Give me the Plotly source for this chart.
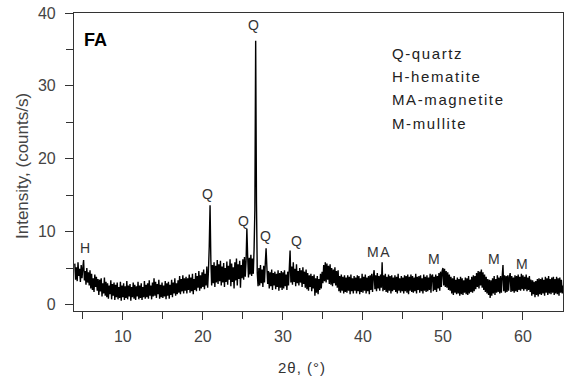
import plotly.graph_objects as go

# Scan: start angle and step (degrees 2-theta)
scan_start = 4.0
scan_step = 0.1

# Intensity (counts/s), one list per 10-degree block
y_04_10 = [5.6, 3.4, 5.1, 3.2, 5.8, 3.9, 4.9, 3.1, 5.4, 3.6,
           5.0, 6.1, 3.3, 4.6, 2.7, 5.0, 3.0, 4.4, 2.6, 4.7,
           2.2, 4.2, 2.0, 3.6, 1.7, 4.1, 2.4, 3.8, 1.9, 3.5,
           1.3, 3.4, 1.8, 3.6, 1.1, 2.9, 1.5, 3.7, 1.2, 3.1,
           1.0, 2.9, 0.8, 2.6, 1.4, 3.3, 0.7, 2.8, 1.2, 3.0,
           0.6, 2.7, 1.0, 3.0, 0.7, 2.4, 0.9, 3.1, 0.5, 2.6]
y_10_20 = [1.0, 2.9, 0.6, 2.5, 0.9, 3.2, 0.7, 2.6, 1.1, 2.8,
           0.5, 2.4, 1.0, 3.0, 0.8, 2.7, 0.6, 2.5, 1.1, 3.1,
           0.7, 2.6, 0.9, 2.9, 0.6, 2.4, 1.0, 3.2, 0.8, 2.7,
           1.0, 2.9, 0.8, 3.3, 1.2, 2.6, 0.7, 3.0, 1.1, 3.6,
           1.2, 3.1, 0.9, 2.8, 1.4, 3.4, 0.8, 2.7, 1.0, 3.0,
           0.9, 2.6, 1.1, 3.2, 0.7, 2.9, 1.2, 3.1, 0.8, 2.7,
           1.3, 3.4, 1.0, 3.0, 1.5, 3.6, 1.2, 2.9, 1.4, 3.3,
           1.6, 3.9, 1.4, 3.5, 1.8, 4.0, 1.5, 3.6, 1.9, 3.8,
           1.5, 3.6, 2.0, 4.1, 1.6, 3.7, 1.8, 4.2, 1.4, 3.5,
           2.0, 4.3, 1.8, 3.9, 2.3, 4.6, 1.9, 4.0, 2.2, 4.4]
y_20_30 = [2.4, 4.8, 2.1, 4.2, 2.6, 5.2, 2.3, 4.6, 8.0, 13.6,
           6.0, 2.6, 5.4, 2.9, 5.8, 2.4, 5.3, 3.0, 6.1, 2.8,
           5.5, 3.2, 6.0, 2.6, 5.2, 3.0, 5.7, 2.4, 5.0, 3.1,
           5.9, 2.7, 5.3, 3.4, 6.2, 2.5, 5.6, 3.1, 5.1, 2.2,
           5.8, 3.3, 6.3, 2.6, 5.5, 3.5, 6.0, 2.3, 5.4, 3.6,
           6.2, 3.4, 6.5, 3.8, 5.9, 10.4, 6.6, 3.7, 6.4, 4.1,
           6.8, 3.9, 6.3, 4.2, 7.5, 13.0, 36.2, 14.0, 4.3, 2.5,
           5.0, 2.6, 5.4, 2.9, 4.8, 2.4, 5.3, 3.0, 5.6, 7.7,
           5.1, 2.8, 4.6, 2.2, 4.4, 2.5, 4.8, 2.0, 4.3, 2.6,
           4.5, 2.1, 4.2, 2.4, 4.7, 1.9, 4.3, 2.3, 4.6, 2.0]
y_30_40 = [4.4, 2.2, 4.7, 2.5, 4.1, 2.0, 4.5, 2.6, 4.9, 7.4,
           3.0, 5.2, 2.7, 5.8, 3.1, 4.9, 2.5, 5.5, 2.9, 4.6,
           2.6, 5.0, 3.0, 4.7, 2.4, 5.1, 2.8, 4.5, 2.3, 4.8,
           2.1, 4.3, 1.9, 4.0, 2.4, 4.2, 1.8, 3.9, 2.2, 4.1,
           1.2, 3.6, 1.6, 3.9, 1.4, 3.5, 2.0, 4.2, 2.2, 4.5,
           2.9, 5.4, 3.2, 5.8, 3.0, 5.6, 3.4, 5.3, 2.8, 5.5,
           2.7, 5.0, 2.5, 4.8, 2.9, 5.1, 2.6, 4.6, 2.3, 4.7,
           1.8, 3.9, 1.6, 4.1, 1.9, 3.8, 1.5, 4.0, 1.7, 3.7,
           1.6, 4.0, 1.9, 3.8, 1.4, 4.1, 1.8, 3.6, 1.5, 3.9,
           1.9, 3.7, 1.5, 4.0, 1.8, 3.9, 1.4, 3.6, 1.7, 4.2]
y_40_50 = [1.6, 3.8, 1.9, 4.1, 1.5, 3.7, 1.8, 3.9, 1.4, 4.0,
           2.0, 4.2, 1.7, 3.9, 4.7, 2.1, 4.0, 1.8, 4.3, 2.2,
           3.9, 1.9, 4.1, 2.3, 5.8, 1.8, 4.0, 2.0, 4.2, 1.7,
           3.8, 1.6, 4.1, 1.9, 3.9, 1.5, 4.0, 1.8, 3.7, 2.0,
           4.0, 1.7, 3.8, 1.5, 4.2, 1.9, 3.6, 1.6, 3.9, 1.8,
           3.7, 1.5, 4.0, 1.8, 3.9, 1.6, 4.1, 1.4, 3.8, 1.9,
           4.1, 1.7, 3.9, 1.6, 3.7, 1.8, 4.2, 1.5, 3.8, 2.0,
           3.9, 1.6, 4.0, 1.8, 3.6, 1.5, 4.1, 1.9, 3.8, 1.7,
           4.0, 1.8, 3.7, 2.0, 4.2, 1.6, 3.9, 4.1, 1.8, 3.8,
           2.0, 4.1, 1.7, 3.9, 2.2, 4.3, 1.9, 4.5, 2.4, 4.6]
y_50_60 = [5.0, 2.6, 4.9, 2.4, 4.6, 2.3, 4.4, 2.0, 4.1, 1.9,
           3.8, 1.5, 3.6, 1.3, 3.9, 1.6, 3.4, 1.4, 3.7, 1.5,
           3.5, 1.2, 3.8, 1.4, 3.6, 1.3, 3.3, 1.6, 3.7, 1.4,
           3.6, 1.3, 3.9, 1.5, 3.4, 1.7, 3.8, 1.6, 4.0, 1.8,
           3.9, 2.1, 4.3, 2.4, 4.6, 2.2, 4.5, 2.6, 4.8, 2.3,
           4.4, 2.0, 4.1, 1.7, 3.8, 1.5, 3.5, 1.3, 3.4, 0.9,
           3.3, 1.2, 3.6, 1.5, 3.9, 1.3, 3.5, 1.6, 4.0, 1.7,
           3.7, 1.5, 3.9, 1.6, 3.8, 5.4, 1.8, 4.0, 1.6, 3.9,
           1.7, 4.0, 1.9, 3.8, 4.3, 1.7, 3.9, 1.8, 3.7, 1.6,
           4.0, 1.8, 3.9, 1.7, 4.1, 2.0, 3.8, 1.9, 4.2, 2.1]
y_60_65 = [4.0, 1.9, 3.8, 2.1, 4.1, 1.8, 3.7, 2.0, 3.9, 1.7,
           3.4, 1.2, 3.3, 1.4, 3.1, 1.0, 3.2, 1.3, 3.5, 1.1,
           3.6, 1.4, 3.5, 1.3, 3.7, 1.5, 3.4, 1.2, 3.8, 1.6,
           3.6, 1.3, 3.9, 1.5, 3.5, 1.4, 3.7, 1.6, 3.8, 1.3,
           3.5, 1.5, 3.8, 1.4, 3.6, 1.2, 3.7, 1.6, 3.4, 1.5,
           2.6]

# Peak labels: (text, 2theta, intensity position)
peak_text = ["H", "Q", "Q", "Q", "Q", "Q", "MA", "M", "M", "M"]
peak_x = [5.4, 20.6, 25.1, 26.4, 27.9, 31.75, 42.0, 49.0, 56.5, 60.0]
peak_y = [7.7, 15.2, 11.5, 38.3, 9.4, 8.7, 7.2, 6.3, 6.2, 5.6]

legend_lines = ["Q-quartz", "H-hematite", "MA-magnetite", "M-mullite"]

intensity = y_04_10 + y_10_20 + y_20_30 + y_30_40 + y_40_50 + y_50_60 + y_60_65
two_theta = [round(scan_start + i * scan_step, 2) for i in range(len(intensity))]

FONT = "Liberation Sans, Arial"


def spaced(t, px=1):
    return f'<span style="letter-spacing:{px}px">{t}</span>'


fig = go.Figure()
fig.add_trace(go.Scatter(x=two_theta, y=intensity, mode="lines",
                         line=dict(color="black", width=1.4, simplify=False),
                         hoverinfo="skip"))

for t, px, py in zip(peak_text, peak_x, peak_y):
    fig.add_annotation(x=px, y=py, text=spaced(t, 1.5), showarrow=False,
                       font=dict(family=FONT, size=14, color="#333"))

fig.add_annotation(x=4.9, y=36.3, text="<b>FA</b>", showarrow=False, xanchor="left",
                   font=dict(family=FONT, size=18, color="black"))

for i, t in enumerate(legend_lines):
    fig.add_annotation(xref="paper", yref="paper", x=(390 - 74) / 489,
                       y=1 - (53.3 + 23.3 * i - 13) / 298, text=spaced(t, 1.6),
                       showarrow=False, xanchor="left", yanchor="middle",
                       font=dict(family=FONT, size=15, color="#222"))

fig.add_annotation(xref="paper", yref="paper", x=(302 - 74) / 489, y=-(367 - 311) / 298,
                   text=spaced("2θ, (°)", 1), showarrow=False, yanchor="middle",
                   font=dict(family=FONT, size=15, color="#333"))

fig.add_annotation(xref="paper", yref="paper", x=(22 - 74) / 489, y=1 - (166 - 13) / 298,
                   text="Intensity, (counts/s)", showarrow=False, textangle=-90,
                   xanchor="center", yanchor="middle",
                   font=dict(family=FONT, size=17, color="#444"))

axis_common = dict(showgrid=False, zeroline=False, showline=True, linecolor="#333",
                   linewidth=1.2, mirror=True, ticks="outside", tickcolor="#333",
                   tickwidth=1.2, ticklen=8,
                   tickfont=dict(family=FONT, size=16, color="#444"))

fig.update_xaxes(range=[3.9, 65.0], tickvals=[10, 20, 30, 40, 50, 60],
                 ticklabelstandoff=3,
                 minor=dict(tickvals=[5, 15, 25, 35, 45, 55], ticks="outside", ticklen=7,
                            tickcolor="#333", tickwidth=1.2),
                 **axis_common)
fig.update_yaxes(range=[-0.9, 40], tickvals=[0, 10, 20, 30, 40],
                 ticklabelstandoff=6,
                 minor=dict(tickvals=[5, 15, 25, 35], ticks="outside", ticklen=7,
                            tickcolor="#333", tickwidth=1.2),
                 **axis_common)

fig.update_layout(width=564, height=378, margin=dict(l=74, r=1, t=13, b=67),
                  plot_bgcolor="white", paper_bgcolor="white", showlegend=False)

fig.write_html("out.html")
